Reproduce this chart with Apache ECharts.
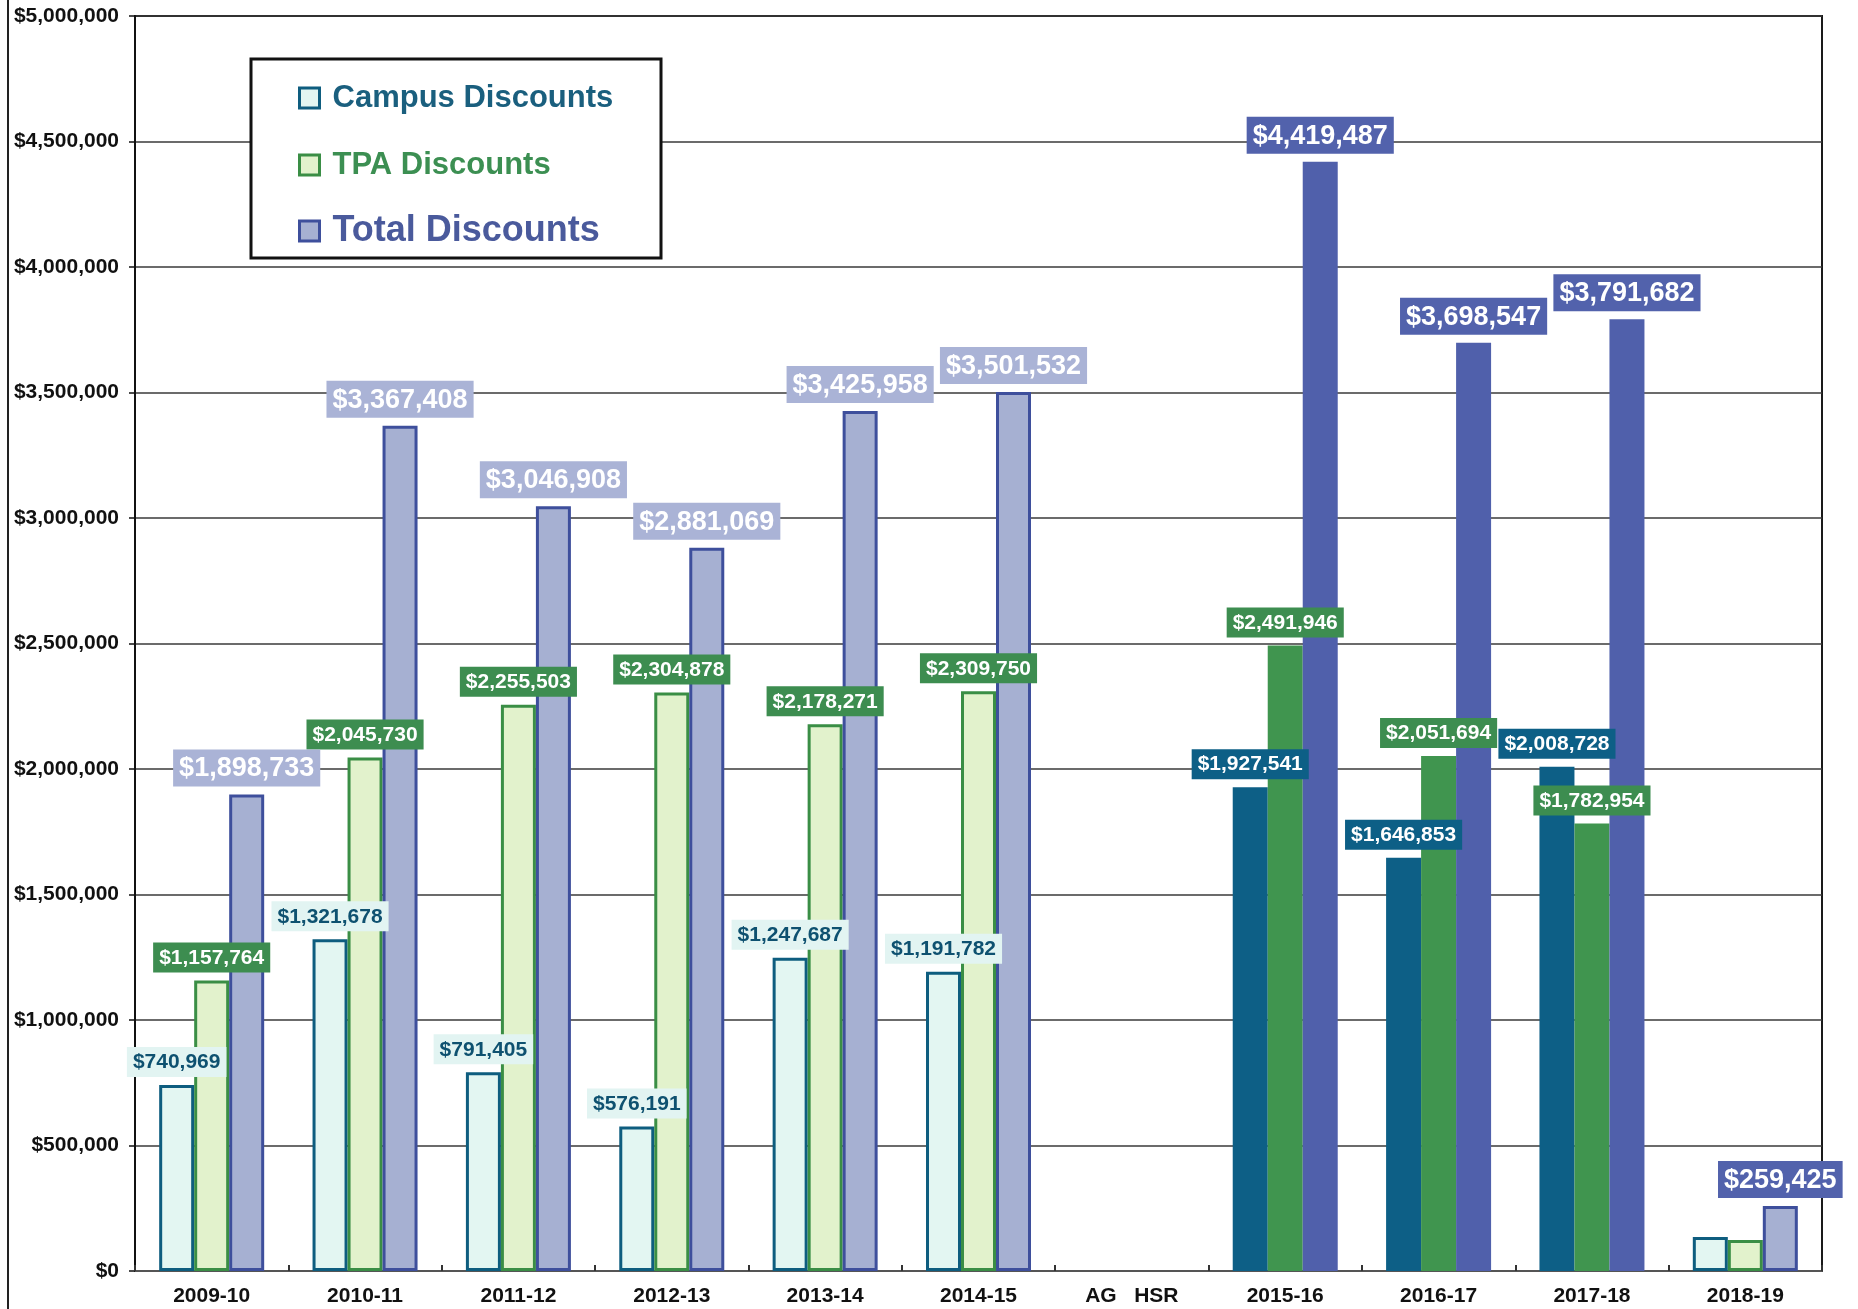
<!DOCTYPE html>
<html>
<head>
<meta charset="utf-8">
<script src="https://cdn.jsdelivr.net/npm/echarts@6/dist/echarts.min.js"></script>
<style>
html,body{margin:0;padding:0;background:#fff;}
#chart{width:1858px;height:1309px;}
</style>
</head>
<body>
<div id="chart"></div>
<script>
// ---- data ----
const categories = ['2009-10','2010-11','2011-12','2012-13','2013-14','2014-15','AG   HSR','2015-16','2016-17','2017-18','2018-19'];
const campusDiscounts = [740969, 1321678, 791405, 576191, 1247687, 1191782, null, 1927541, 1646853, 2008728, 135500];
const tpaDiscounts    = [1157764, 2045730, 2255503, 2304878, 2178271, 2309750, null, 2491946, 2051694, 1782954, 123925];
const totalDiscounts  = [1898733, 3367408, 3046908, 2881069, 3425958, 3501532, null, 4419487, 3698547, 3791682, 259425];
const campusLabelled  = [true, true, true, true, true, true, false, true, true, true, false];
const tpaLabelled     = [true, true, true, true, true, true, false, true, true, true, false];
const totalLabelled   = [true, true, true, true, true, true, false, true, true, true, true];
const yTicks = {min: 0, max: 5000000, interval: 500000};

// ---- styling (separate from data) ----
const solidBars = [7, 8, 9];
const solidTotalLabels = [7, 8, 9, 10];
const FONT = '"Liberation Sans", Arial, Helvetica, sans-serif';
const money = v => '$' + Math.round(v).toLocaleString('en-US');

const styles = {
  campus: {
    light: {color: '#e3f6f2', borderColor: '#0e5d7f', borderWidth: 3},
    solid: {color: '#0d5f86', borderColor: '#0d5f86', borderWidth: 0},
    labLight: {backgroundColor: '#e2f4f2', color: '#0e5170', fontSize: 21},
    labSolid: {backgroundColor: '#0d5f86', color: '#ffffff', fontSize: 21}
  },
  tpa: {
    light: {color: '#e2f2cc', borderColor: '#3a8e45', borderWidth: 3},
    solid: {color: '#40954f', borderColor: '#40954f', borderWidth: 0},
    labLight: {backgroundColor: '#3d8d50', color: '#ffffff', fontSize: 21},
    labSolid: {backgroundColor: '#3d8d50', color: '#ffffff', fontSize: 21}
  },
  total: {
    light: {color: '#a6b0d2', borderColor: '#3e4f9c', borderWidth: 3},
    solid: {color: '#5060ab', borderColor: '#5060ab', borderWidth: 0},
    labLight: {backgroundColor: '#aab3d6', color: '#ffffff', fontSize: 27},
    labSolid: {backgroundColor: '#5262ac', color: '#ffffff', fontSize: 27}
  }
};

function buildData(values, labelled, st, solidLabelIdx) {
  return values.map((v, i) => {
    const solid = solidBars.includes(i);
    const solidLab = solidLabelIdx.includes(i);
    const lab = solidLab ? st.labSolid : st.labLight;
    const big = lab.fontSize > 22;
    return {
      value: v,
      itemStyle: solid ? st.solid : st.light,
      label: {
        show: labelled[i] && v != null,
        position: 'top',
        distance: 8,
        formatter: p => money(p.value),
        fontFamily: FONT,
        fontWeight: 'bold',
        fontSize: lab.fontSize,
        color: lab.color,
        backgroundColor: lab.backgroundColor,
        padding: big ? [6, 6, 4, 6] : [5, 6, 4, 6]
      }
    };
  });
}

const chart = echarts.init(document.getElementById('chart'), null, {renderer: 'canvas'});

function legendFor(name, top, fontSize, textColor, st) {
  return {
    data: [{name: name, icon: 'rect', itemStyle: {color: st.light.color, borderColor: st.light.borderColor, borderWidth: 3}}],
    left: 293, top: top,
    itemWidth: 20, itemHeight: 20,
    selectedMode: false,
    z: 10,
    textStyle: {fontFamily: FONT, fontWeight: 'bold', fontSize: fontSize, color: textColor, lineHeight: 40, padding: [0, 0, 0, 8]}
  };
}

const option = {
  backgroundColor: '#ffffff',
  animation: false,
  grid: {left: 135, right: 36, top: 16, bottom: 38, show: true, borderColor: '#1a1a1a', borderWidth: 2, backgroundColor: 'transparent'},
  legend: [
    legendFor('Campus Discounts', 73, 31, '#1a5f7e', styles.campus),
    legendFor('TPA Discounts', 140, 31, '#3c8f52', styles.tpa),
    legendFor('Total Discounts', 206, 36, '#4a5a9c', styles.total)
  ],
  graphic: [
    {type: 'rect', z: 5, shape: {x: 251, y: 59, width: 410, height: 199}, style: {fill: '#ffffff', stroke: '#111', lineWidth: 3}},
    {type: 'line', z: 5, shape: {x1: 8, y1: 0, x2: 8, y2: 1309}, style: {stroke: '#222', lineWidth: 2}}
  ],
  xAxis: {
    type: 'category',
    data: categories,
    axisLine: {show: true, lineStyle: {color: '#555', width: 2}},
    axisTick: {show: true, inside: true, length: 6, lineStyle: {color: '#333', width: 2}},
    axisLabel: {fontFamily: FONT, fontWeight: 'bold', fontSize: 21, color: '#111', margin: 15}
  },
  yAxis: {
    type: 'value',
    min: yTicks.min, max: yTicks.max, interval: yTicks.interval,
    axisLine: {show: true, lineStyle: {color: '#111', width: 2}},
    axisTick: {show: true, length: 6, lineStyle: {color: '#111', width: 1.5}},
    axisLabel: {fontFamily: FONT, fontWeight: 'bold', fontSize: 21, color: '#111', margin: 16, formatter: v => money(v)},
    splitLine: {show: true, lineStyle: {color: '#3a3a3a', width: 1.6}}
  },
  series: [
    {name: 'Campus Discounts', type: 'bar', barWidth: 35, barGap: '0%', itemStyle: styles.campus.light,
     data: buildData(campusDiscounts, campusLabelled, styles.campus, solidBars)},
    {name: 'TPA Discounts', type: 'bar', barWidth: 35, barGap: '0%', itemStyle: styles.tpa.light,
     data: buildData(tpaDiscounts, tpaLabelled, styles.tpa, solidBars)},
    {name: 'Total Discounts', type: 'bar', barWidth: 35, barGap: '0%', itemStyle: styles.total.light,
     data: buildData(totalDiscounts, totalLabelled, styles.total, solidTotalLabels)}
  ]
};
chart.setOption(option);
</script>
</body>
</html>
